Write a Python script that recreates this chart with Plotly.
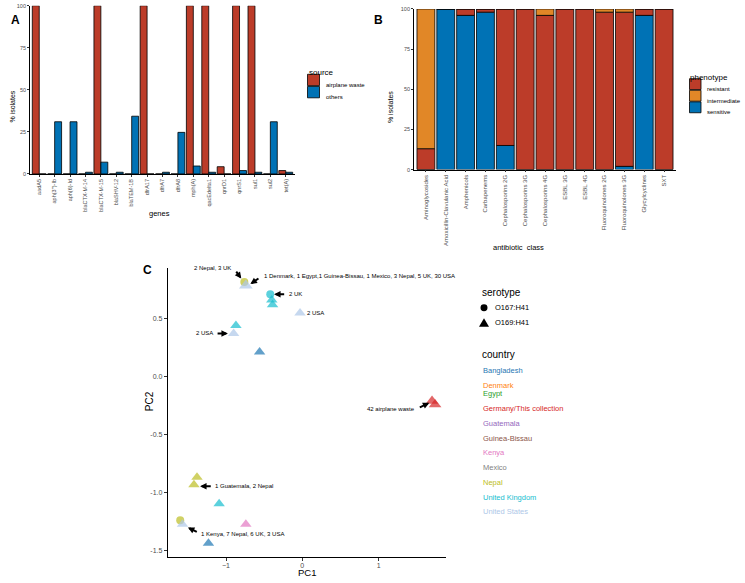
import plotly.graph_objects as go

FONT = "Liberation Sans, Arial, sans-serif"
W, H = 745, 583
TICK_GREY = "#4D4D4D"

# --- Panel A: resistance genes by source ---
genes = ["aadA5", "aph(3'')-Ib", "aph(6)-Id", "blaCTX-M-14", "blaCTX-M-15", "blaSHV-12",
         "blaTEM-1B", "dfrA17", "dfrA7", "dfrA8", "mph(A)", "qacEdelta1", "qnrD1",
         "qnrS1", "sul1", "sul2", "tet(A)"]
pct_airplane = [100, 0, 0, 0, 100, 0, 0, 100, 0, 0, 100, 100, 4.3, 100, 100, 0, 2]
pct_others = [0, 31, 31, 1, 7, 1, 34.3, 0, 1, 24.7, 4.7, 1, 0, 2, 1, 31, 1]
sources = ["airplane waste", "others"]
source_colors = ["#BC3C29", "#0072B5"]

# --- Panel B: phenotype by antibiotic class ---
ab_classes = ["Aminoglycosides", "Amoxicillin-Clavulanic Acid", "Amphenicols", "Carbapenems",
              "Cephalosporins 2G", "Cephalosporins 3G", "Cephalosporins 4G", "ESBL 3G",
              "ESBL 4G", "Fluoroquinolones 2G", "Fluoroquinolones 3G", "Glycylcyclines", "SXT"]
pct_resistant = [13, 0, 4, 2, 85, 100, 96, 100, 100, 98, 96, 4, 100]
pct_intermediate = [87, 0, 0, 0, 0, 0, 4, 0, 0, 2, 2, 0, 0]
pct_sensitive = [0, 100, 96, 98, 15, 0, 0, 0, 0, 0, 2, 96, 0]
phenotypes = ["resistant", "intermediate", "sensitive"]
pheno_colors = ["#BC3C29", "#E18727", "#0072B5"]

# --- Panel C: PCA ---
countries = ["Bangladesh", "Denmark", "Egypt", "Germany/This collection", "Guatemala",
             "Guinea-Bissau", "Kenya", "Mexico", "Nepal", "United Kingdom", "United States"]
country_colors = ["#1F77B4", "#FF7F0E", "#2CA02C", "#D62728", "#9467BD", "#8C564B",
                  "#E377C2", "#7F7F7F", "#BCBD22", "#17BECF", "#AEC7E8"]
serotypes = ["O167:H41", "O169:H41"]

pt_country = ["Nepal", "United States", "United Kingdom", "United Kingdom", "United Kingdom",
              "United States", "United Kingdom", "United States", "Bangladesh",
              "Germany/This collection", "Germany/This collection", "Nepal", "Nepal",
              "United Kingdom", "Nepal", "United States", "Kenya", "Bangladesh"]
pt_serotype = ["O167:H41", "O169:H41", "O167:H41", "O169:H41", "O169:H41",
               "O169:H41", "O169:H41", "O169:H41", "O169:H41",
               "O169:H41", "O169:H41", "O169:H41", "O169:H41",
               "O169:H41", "O167:H41", "O169:H41", "O169:H41", "O169:H41"]
pt_pc1 = [-0.76, -0.74, -0.42, -0.40, -0.39, -0.03, -0.87, -0.90, -0.56,
          1.70, 1.74, -1.38, -1.42, -1.09, -1.60, -1.57, -0.74, -1.23]
pt_pc2 = [0.81, 0.78, 0.705, 0.656, 0.614, 0.543, 0.435, 0.367, 0.207,
          -0.215, -0.245, -0.872, -0.935, -1.10, -1.242, -1.276, -1.276, -1.44]
pt_size = [8, 12, 8, 10, 10, 10, 10, 10, 10,
           11, 11, 10, 10, 10, 8, 10, 10, 10]

# label texts and where they sit (data units)
lab_text = ["2 Nepal, 3 UK",
            "1 Denmark, 1 Egypt,1 Guinea-Bissau, 1 Mexico, 3 Nepal, 5 UK, 30 USA",
            "2 UK", "2 USA", "2 USA", "42 airplane waste", "1 Guatemala, 2 Nepal",
            "1 Kenya, 7 Nepal, 6 UK, 3 USA"]
lab_x = [-1.175, -0.53, -0.205, 0.035, -1.14, 1.505, -1.165, -1.35]
lab_y = [0.92, 0.858, 0.708, 0.543, 0.367, -0.287, -0.949, -1.361]
lab_yshift = [1, 0, 0, 0, 0, 0, 0, 0]
lab_anchor = ["center", "left", "left", "left", "right", "right", "left", "left"]
# arrows: tail -> head
arr_x0 = [-0.88, -0.555, -0.218, -1.13, 1.52, -1.18, -1.363]
arr_y0 = [0.912, 0.85, 0.705, 0.367, -0.275, -0.949, -1.347]
arr_x1 = [-0.80, -0.68, -0.37, -0.975, 1.665, -1.34, -1.50]
arr_y1 = [0.84, 0.793, 0.705, 0.367, -0.23, -0.949, -1.304]


def px_x(p):
    return p / W


def px_y(p):
    return 1 - p / H


fig = go.Figure()

# Panel A bars (dodged)
for name, vals, col, off in zip(sources, [pct_airplane, pct_others], source_colors, [-0.45, 0.0]):
    fig.add_trace(go.Bar(
        x=genes, y=vals, name=name, xaxis="x", yaxis="y",
        width=0.45, offset=off,
        marker=dict(color=col, line=dict(color="black", width=0.8)),
        showlegend=False
    ))

# Panel B bars (stacked bottom to top: sensitive, resistant, intermediate)
base_res = pct_sensitive
base_int = [s + r for s, r in zip(pct_sensitive, pct_resistant)]
for name, vals, base, col in [
    ("sensitive", pct_sensitive, None, pheno_colors[2]),
    ("resistant", pct_resistant, base_res, pheno_colors[0]),
    ("intermediate", pct_intermediate, base_int, pheno_colors[1]),
]:
    fig.add_trace(go.Bar(
        x=ab_classes, y=vals, base=base, name=name, xaxis="x2", yaxis="y2",
        width=0.9,
        marker=dict(color=col, line=dict(color="black", width=0.8)),
        showlegend=False
    ))

# Panel C scatter, one trace per country
for c, col in zip(countries, country_colors):
    idx = [i for i, pc in enumerate(pt_country) if pc == c]
    if not idx:
        continue
    fig.add_trace(go.Scatter(
        x=[pt_pc1[i] for i in idx], y=[pt_pc2[i] for i in idx],
        mode="markers", name=c, xaxis="x3", yaxis="y3",
        marker=dict(color=col,
                    symbol=["circle" if pt_serotype[i] == "O167:H41" else "triangle-up" for i in idx],
                    size=[pt_size[i] for i in idx], line=dict(width=0)),
        showlegend=False
    ))

small_tick = dict(family=FONT, size=5.5, color=TICK_GREY)
axis_common = dict(showline=True, linecolor="black", linewidth=0.8, ticks="outside",
                   ticklen=2, tickcolor="#333333", showgrid=False, zeroline=False,
                   fixedrange=True)

fig.update_layout(
    width=W, height=H,
    margin=dict(l=0, r=0, t=0, b=0),
    paper_bgcolor="white", plot_bgcolor="white",
    barmode="overlay", bargap=0.1,
    showlegend=False,
    font=dict(family=FONT, color="black"),
    xaxis=dict(domain=[px_x(30), px_x(295)], anchor="y", type="category",
               range=[-0.6, 16.6], tickangle=-90, tickfont=small_tick, **axis_common),
    yaxis=dict(domain=[px_y(172.7), px_y(2.7)], anchor="x", range=[0, 100],
               tickvals=[0, 25, 50, 75, 100], tickfont=small_tick, **axis_common),
    xaxis2=dict(domain=[px_x(414), px_x(676)], anchor="y2", type="category",
                range=[-0.6, 12.6], tickangle=-90, tickfont=dict(family=FONT, size=6, color=TICK_GREY),
                **axis_common),
    yaxis2=dict(domain=[px_y(168.3), px_y(6)], anchor="x2", range=[0, 100],
                tickvals=[0, 25, 50, 75, 100], tickfont=small_tick, **axis_common),
    xaxis3=dict(domain=[px_x(167.7), px_x(446)], anchor="y3", range=[-1.764, 1.883],
                tickvals=[-1, 0, 1], tickfont=dict(family=FONT, size=7, color=TICK_GREY),
                ticklabelstandoff=-2,
                **{**axis_common, "ticklen": 3}),
    yaxis3=dict(domain=[px_y(560), px_y(268)], anchor="x3", range=[-1.56, 0.929],
                tickvals=[-1.5, -1.0, -0.5, 0.0, 0.5], ticktext=["-1.5", "-1.0", "-0.5", "0.0", "0.5"],
                tickfont=dict(family=FONT, size=7, color=TICK_GREY),
                **{**axis_common, "ticklen": 3}),
)

ann = []
shapes = []

# panel letters
for letter, x, y in [("A", 9, 8), ("B", 378, 8), ("C", 141, 270)]:
    ann.append(dict(text="<b>%s</b>" % letter, x=px_x(x), y=px_y(y), xref="paper", yref="paper",
                    showarrow=False, font=dict(size=12, family=FONT)))

# axis titles
for text, x, y, angle, size in [
    ("% isolates", 8, 88, -90, 7), ("genes", 148, 213, 0, 7.5),
    ("% isolates", 390, 88, -90, 7), ("antibiotic  class", 545, 247, 0, 7.5),
    ("PC1", 307, 581.5, 0, 9.5), ("PC2", 143, 414, -90, 10),
]:
    ann.append(dict(text=text, x=px_x(x), y=px_y(y), xref="paper", yref="paper",
                    showarrow=False, textangle=angle, borderpad=0, font=dict(size=size, family=FONT)))

# legend A (source)
ann.append(dict(text="source", x=px_x(307), y=px_y(63.5), xref="paper", yref="paper",
                xanchor="left", showarrow=False, font=dict(size=8, family=FONT)))
for i, (name, col) in enumerate(zip(sources, source_colors)):
    top = 72 + 12.3 * i
    shapes.append(dict(type="rect", xref="paper", yref="paper",
                       x0=px_x(307.5), x1=px_x(319.5), y0=px_y(top + 11.5), y1=px_y(top),
                       fillcolor=col, line=dict(color="black", width=0.8)))
    ann.append(dict(text=name, x=px_x(324), y=px_y(top + 5.8), xref="paper", yref="paper",
                    xanchor="left", showarrow=False, font=dict(size=6, family=FONT)))

# legend B (phenotype)
ann.append(dict(text="phenotype", x=px_x(688), y=px_y(69), xref="paper", yref="paper",
                xanchor="left", showarrow=False, font=dict(size=8, family=FONT)))
for i, (name, col) in enumerate(zip(phenotypes, pheno_colors)):
    top = 76.5 + 11.7 * i
    shapes.append(dict(type="rect", xref="paper", yref="paper",
                       x0=px_x(689.5), x1=px_x(701), y0=px_y(top + 11), y1=px_y(top),
                       fillcolor=col, line=dict(color="black", width=0.8)))
    ann.append(dict(text=name, x=px_x(705), y=px_y(top + 5.5), xref="paper", yref="paper",
                    xanchor="left", showarrow=False, font=dict(size=6, family=FONT)))

# legend C (serotype)
ann.append(dict(text="serotype", x=px_x(480), y=px_y(293), xref="paper", yref="paper",
                xanchor="left", showarrow=False, font=dict(size=10, family=FONT)))
for i, s in enumerate(serotypes):
    cy = 308 + 15 * i
    ann.append(dict(text=s, x=px_x(493), y=px_y(cy), xref="paper", yref="paper",
                    xanchor="left", showarrow=False, font=dict(size=7.5, family=FONT)))
shapes.append(dict(type="circle", xref="paper", yref="paper", fillcolor="black",
                   x0=px_x(480.5), x1=px_x(487.5), y0=px_y(311.5), y1=px_y(304.5), line=dict(width=0)))
shapes.append(dict(type="path", xref="paper", yref="paper", fillcolor="black", line=dict(width=0),
                   path="M %f %f L %f %f L %f %f Z" % (px_x(479), px_y(327), px_x(489), px_y(327),
                                                       px_x(484), px_y(318.5))))

# legend C (country, coloured text)
ann.append(dict(text="country", x=px_x(480), y=px_y(355), xref="paper", yref="paper",
                xanchor="left", showarrow=False, font=dict(size=10, family=FONT)))
for i, (c, col) in enumerate(zip(countries, country_colors)):
    ann.append(dict(text=c, x=px_x(481), y=px_y(371.7 + 14.9 * i), xref="paper", yref="paper",
                    xanchor="left", showarrow=False, font=dict(size=7.5, family=FONT, color=col)))

# PCA point labels and arrows
for t, x, y, a, ys in zip(lab_text, lab_x, lab_y, lab_anchor, lab_yshift):
    ann.append(dict(text=t, x=x, y=y, xref="x3", yref="y3", xanchor=a, yshift=ys, showarrow=False,
                    font=dict(size=6, family=FONT)))
for x0, y0, x1, y1 in zip(arr_x0, arr_y0, arr_x1, arr_y1):
    ann.append(dict(text="", x=x1, y=y1, ax=x0, ay=y0, xref="x3", yref="y3",
                    axref="x3", ayref="y3", showarrow=True, arrowhead=2, arrowsize=0.65,
                    arrowwidth=2, arrowcolor="black"))

fig.update_layout(annotations=ann, shapes=shapes)

fig.write_html("out.html", config={"displayModeBar": False},
               post_script="document.body.style.margin='0px';")
